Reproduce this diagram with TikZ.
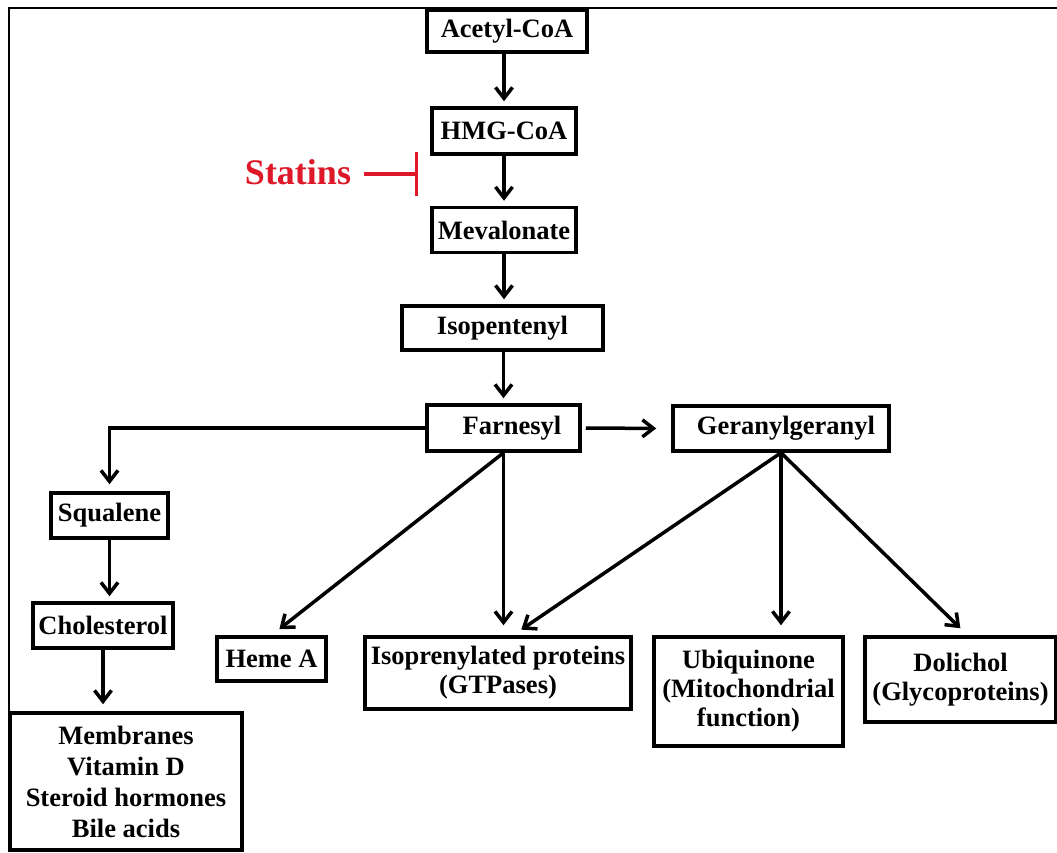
\documentclass[tikz,border=0pt]{standalone}
\usepackage{fontspec}
\setmainfont{Liberation Serif}
\usepackage{tikz}
\usetikzlibrary{arrows.meta}
\definecolor{statred}{RGB}{222,24,40}

\begin{document}
\begin{tikzpicture}[x=1pt, y=-1pt,
  box/.style={draw, line width=3.5pt, inner sep=0pt, align=center, font=\fontsize{26.5}{29}\selectfont\bfseries},
  arr/.style={line width=3.5pt, -{Straight Barb[length=11pt, width=17pt]}, shorten >=5pt}]
\useasboundingbox (0,0) rectangle (1057,852);
\draw[line width=1.3pt] (9,852) |- (1057,8);
% main chain
\node[box, minimum width=160pt, minimum height=42pt] (acetyl) at (507,31) {Acetyl-CoA};
\node[box, minimum width=144pt, minimum height=46pt] (hmg) at (504,131) {HMG-CoA};
\node[box, minimum width=144pt, minimum height=45pt] (meval) at (504,230) {Mevalonate};
\node[box, minimum width=201pt, minimum height=44pt] (isopent) at (502.5,328) {Isopentenyl};
\node[box, minimum width=153pt, minimum height=46pt] (farnesyl) at (503.5,428) {\hspace*{17pt}Farnesyl};
\node[box, minimum width=216pt, minimum height=45pt] (gerany) at (781,428.5) {\hspace*{10pt}Geranylgeranyl};
% sterol branch
\node[box, minimum width=117pt, minimum height=45pt] (squalene) at (109.5,515.5) {Squalene};
\node[box, minimum width=140pt, minimum height=45pt] (cholest) at (103,625.5) {Cholesterol};
\node[box, minimum width=232pt, minimum height=137pt, font=\fontsize{26.5}{31}\selectfont\bfseries] (membr) at (126,781.5) {Membranes\\Vitamin D\\Steroid hormones\\Bile acids};
% non-sterol products
\node[box, minimum width=109pt, minimum height=44pt] (hemea) at (271.5,659) {Heme A};
\node[box, minimum width=266pt, minimum height=72pt] (isopren) at (498,673) {Isoprenylated proteins\\(GTPases)};
\node[box, minimum width=189pt, minimum height=109pt] (ubiq) at (748.5,691.5) {Ubiquinone\\(Mitochondrial\\function)};
\node[box, minimum width=191pt, minimum height=85pt] (dolich) at (960.5,679.5) {Dolichol\\(Glycoproteins)};
% statins
\node[text=statred, font=\fontsize{36}{40}\selectfont\bfseries, inner sep=0pt] (statins) at (298,172) {Statins};
\coordinate (block) at (418,174);
\draw[statred, line width=3.5pt, -{Bar[width=44pt, line width=3.5pt]}, shorten <=13pt] (statins.east |- block) -- (block);
% arrows
\draw[arr] (acetyl.south -| hmg) -- (hmg.north);
\draw[arr] (hmg) -- (meval);
\draw[arr] (meval.south) -- (meval.south |- isopent.north);
\draw[arr] (isopent.south -| farnesyl) -- (farnesyl.north);
\draw[arr, shorten <=4pt, shorten >=15pt] (farnesyl.east) -- (gerany.west);
\draw[arr, shorten >=7pt] (farnesyl.west) -| (squalene.north);
\draw[arr] (squalene) -- (squalene |- cholest.north);
\draw[arr, shorten >=7pt] (cholest) -- (cholest |- membr.north);
\draw[arr, shorten >=10pt] (farnesyl.south) -- (hemea.north);
\draw[arr, shorten >=10pt] (farnesyl.south) -- (isopren.north -| farnesyl.south);
\draw[arr, shorten >=10pt] (gerany.south) -- ([xshift=15pt]isopren.north);
\draw[arr, shorten >=10pt] (gerany.south) -- (ubiq.north -| gerany.south);
\draw[arr, shorten >=10pt] (gerany.south) -- ([xshift=7pt]dolich.north);
\end{tikzpicture}
\end{document}
